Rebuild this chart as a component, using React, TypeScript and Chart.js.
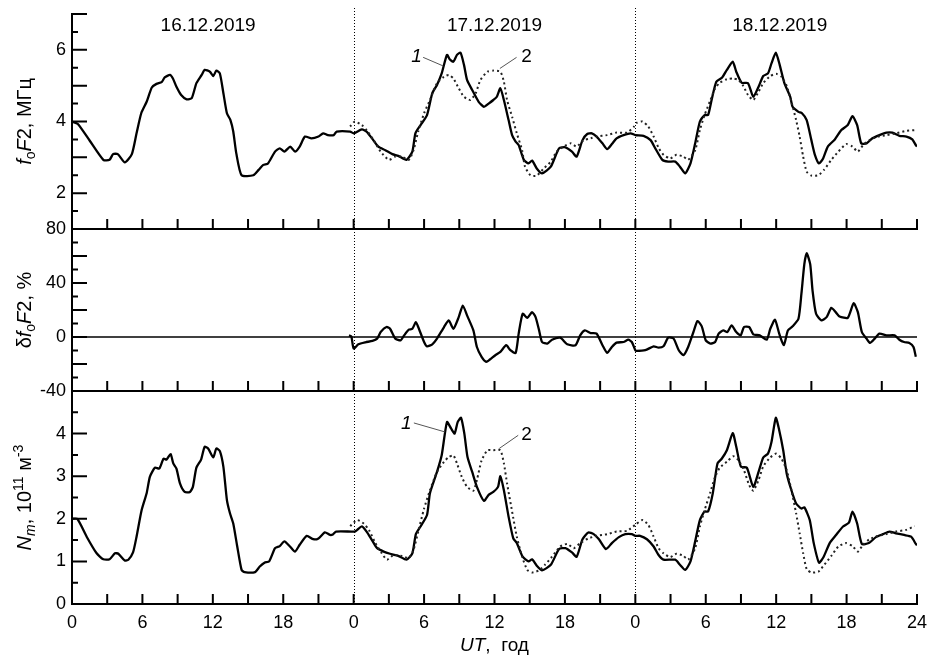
import React, { useEffect, useRef } from 'react';
import { Chart, registerables } from 'chart.js';

Chart.register(...registerables);

const FONT = '"Liberation Sans", Arial, Helvetica, sans-serif';

// ---------------- axes / labels ----------------
const X_LABEL_HOURS = [0, 6, 12, 18, 24, 30, 36, 42, 48, 54, 60, 66, 72];
const X_LABELS = ['0', '6', '12', '18', '0', '6', '12', '18', '0', '6', '12', '18', '24'];
const X_MARK_HOURS = [3, 6, 9, 12, 15, 18, 21, 24, 27, 30, 33, 36, 39, 42, 45, 48, 51, 54, 57, 60, 63, 66, 69, 72];
const DAY_BOUNDARIES = [24, 48];
const DATES = ['16.12.2019', '17.12.2019', '18.12.2019'];
const DATE_HOURS = [11.6, 36.0, 60.3];

const FOF2_LABELS = [2, 4, 6];
const FOF2_LONG = [1, 2, 3, 4, 5, 6, 7];
const FOF2_SHORT = [1.5, 2.5, 3.5, 4.5, 5.5, 6.5];
const DFOF2_LABELS = [-40, 0, 40, 80];
const DFOF2_LONG = [-40, -20, 0, 20, 40, 60, 80];
const DFOF2_SHORT = [-30, -10, 10, 30, 50, 70];
const NM_LABELS = [0, 1, 2, 3, 4];
const NM_LONG = [0, 1, 2, 3, 4, 5];
const NM_SHORT = [0.5, 1.5, 2.5, 3.5, 4.5];

// ---------------- data: [hour, value] ----------------
const FOF2_OBS: [number, number][] = [
  [0, 4.0], [0.5, 3.93], [1.5, 3.47], [2.67, 2.93], [3.2, 2.93], [3.5, 3.09], [3.9, 3.09], [4.5, 2.86], [5.1, 3.09], [5.5, 3.67],
  [5.9, 4.23], [6.36, 4.55], [6.8, 4.95], [7.2, 5.05], [7.64, 5.1], [7.9, 5.23], [8.35, 5.3], [8.6, 5.2], [8.9, 4.97], [9.3, 4.74],
  [9.77, 4.62], [10.2, 4.65], [10.6, 5.07], [11.05, 5.3], [11.3, 5.44], [11.75, 5.39], [12.04, 5.27], [12.3, 5.42], [12.6, 5.34], [12.9, 4.79],
  [13.2, 4.23], [13.5, 4.04], [13.74, 3.72], [14.0, 3.11], [14.45, 2.5], [15.45, 2.5], [15.9, 2.65], [16.3, 2.79], [16.7, 2.83], [17.3, 3.16],
  [17.7, 3.25], [18.1, 3.16], [18.6, 3.3], [19.0, 3.16], [19.4, 3.3], [19.85, 3.58], [20.4, 3.53], [21.0, 3.58], [21.4, 3.67], [21.8, 3.62],
  [22.3, 3.62], [22.55, 3.72], [23.7, 3.72], [24.0, 3.67],
  [24.7, 3.78], [25.1, 3.72], [25.56, 3.53], [26.1, 3.3], [26.7, 3.2], [27.3, 3.09], [27.8, 3.04], [28.5, 2.93], [29.0, 3.16], [29.26, 3.67],
  [29.7, 3.9], [30.25, 4.18], [30.7, 4.79], [31.1, 5.02], [31.5, 5.34], [31.95, 5.86], [32.2, 5.73], [32.5, 5.67], [32.8, 5.86], [33.1, 5.92],
  [33.4, 5.58], [33.66, 5.16], [34.1, 4.88], [34.65, 4.55], [35.1, 4.41], [35.5, 4.5], [35.9, 4.6], [36.2, 4.69], [36.5, 4.93], [36.8, 4.6],
  [37.2, 4.04], [37.5, 3.62], [37.8, 3.44], [38.06, 3.34], [38.5, 2.93], [38.9, 2.83], [39.2, 2.91], [39.6, 2.69], [40.05, 2.55], [40.8, 2.74],
  [41.5, 3.25], [42.04, 3.28], [42.6, 3.16], [43.0, 3.02], [43.5, 3.48], [43.9, 3.65], [44.3, 3.67], [44.7, 3.58], [45.2, 3.39], [45.6, 3.23],
  [46.0, 3.37], [46.4, 3.53], [47.0, 3.62], [47.6, 3.67], [48.0, 3.62],
  [48.7, 3.6], [49.3, 3.48], [49.7, 3.25], [50.3, 2.93], [50.8, 2.88], [51.4, 2.88], [51.8, 2.74], [52.25, 2.55], [52.7, 2.83], [53.1, 3.39],
  [53.5, 4.0], [53.9, 4.18], [54.2, 4.18], [54.5, 4.6], [54.9, 5.11], [55.4, 5.23], [55.8, 5.44], [56.3, 5.67], [56.6, 5.39], [57.06, 5.08],
  [57.6, 5.07], [58.05, 4.69], [58.5, 4.97], [58.9, 5.27], [59.3, 5.34], [59.6, 5.62], [59.97, 5.92], [60.3, 5.58], [60.7, 5.07], [61.2, 4.69],
  [61.4, 4.41], [61.9, 4.27], [62.2, 4.23], [62.6, 4.04], [63.0, 3.48], [63.3, 3.07], [63.65, 2.83], [64.0, 2.97], [64.4, 3.3], [65.0, 3.5],
  [65.55, 3.76], [66.1, 3.9], [66.5, 4.15], [66.9, 3.9], [67.25, 3.39], [67.7, 3.39], [68.2, 3.53], [68.8, 3.62], [69.4, 3.69], [69.9, 3.69],
  [70.5, 3.6], [71.1, 3.58], [71.6, 3.5], [71.9, 3.34], [72, 3.3],
];

const FOF2_MED: [number, number][] = [
  [23.7, 3.86], [24.1, 4.0], [24.7, 3.9], [25.1, 3.76], [25.7, 3.48], [26.3, 3.16], [27.0, 2.93], [27.55, 3.02], [28.1, 3.02], [28.7, 2.93],
  [29.1, 3.2], [29.5, 3.72], [30.0, 4.23], [30.5, 4.6], [31.1, 5.07], [31.7, 5.25], [32.1, 5.3], [32.5, 5.2], [32.95, 4.93], [33.4, 4.69],
  [33.94, 4.6], [34.4, 4.79], [34.8, 5.16], [35.4, 5.39], [35.9, 5.42], [36.5, 5.39], [36.8, 5.11], [37.07, 4.6], [37.5, 4.13], [37.9, 3.67],
  [38.35, 3.2], [38.6, 2.74], [39.06, 2.5], [39.6, 2.49], [40.2, 2.69], [40.8, 2.88], [41.3, 3.16], [41.9, 3.3], [42.5, 3.39], [43.0, 3.3],
  [43.6, 3.48], [44.2, 3.53], [44.7, 3.58], [45.6, 3.62], [46.4, 3.69], [47.3, 3.69], [47.9, 3.86], [48.14, 3.97], [48.6, 4.0], [49.1, 3.86],
  [49.56, 3.58], [50.0, 3.25], [50.4, 3.07], [50.97, 2.97], [51.5, 3.07], [52.1, 3.02], [52.5, 2.93], [53.1, 3.2], [53.5, 3.76], [53.9, 4.18],
  [54.4, 4.6], [54.8, 4.93], [55.2, 5.08], [55.8, 5.18], [56.35, 5.2], [56.8, 5.16], [57.2, 4.99], [57.6, 4.74], [58.05, 4.6], [58.5, 4.83],
  [58.9, 5.07], [59.5, 5.27], [60.0, 5.33], [60.45, 5.25], [60.9, 4.99], [61.3, 4.55], [61.7, 4.04], [62.0, 3.58], [62.3, 3.02], [62.6, 2.6],
  [63.0, 2.49], [63.6, 2.5], [64.1, 2.66], [64.7, 2.93], [65.3, 3.16], [65.97, 3.37], [66.5, 3.3], [66.96, 3.16], [67.4, 3.34], [67.95, 3.48],
  [68.66, 3.58], [69.4, 3.62], [70.2, 3.67], [71.07, 3.74], [71.8, 3.76],
];

const DFOF2: [number, number][] = [
  [23.6, 1.2], [23.8, 0.5], [24.0, -8.6], [24.4, -5.4], [25.0, -3.9], [25.6, -2.9], [26.0, -1.2], [26.3, 3.7], [26.8, 7.4], [27.1, 6.1],
  [27.55, -1.2], [28.0, -2.5], [28.3, 1.2], [28.7, 5.4], [29.0, 6.1], [29.3, 11.0], [29.5, 7.4], [30.0, -3.7], [30.25, -6.9], [30.7, -5.4],
  [31.1, -1.2], [31.7, 7.4], [32.1, 12.3], [32.5, 6.1], [32.95, 14.7], [33.3, 23.3], [33.66, 16.0], [34.2, 4.9], [34.5, -7.4], [34.9, -14.7],
  [35.3, -18.4], [35.6, -16.7], [36.07, -13.5], [36.5, -11.0], [37.0, -6.1], [37.35, -9.8], [37.8, -11.8], [38.06, 2.5], [38.4, 17.2], [38.8, 14.2],
  [39.2, 18.4], [39.5, 14.7], [39.8, 4.9], [40.05, -3.7], [40.5, -4.9], [40.9, -2.0], [41.6, -0.5], [42.2, -5.4], [42.9, -6.1], [43.3, 1.2],
  [43.7, 4.9], [44.2, 2.9], [44.7, 2.5], [45.2, -6.1], [45.6, -11.8], [46.0, -7.4], [46.4, -4.2], [47.0, -3.7], [47.4, -2.0], [47.7, -3.7],
  [48.0, -9.8], [48.1, -10.3], [48.85, -9.8], [49.56, -6.9], [49.98, -7.9], [50.4, -6.9], [50.8, -0.5], [51.26, -1.2], [51.7, -9.8], [52.1, -13.5],
  [52.5, -7.4], [52.95, 3.7], [53.3, 11.8], [53.66, 7.9], [54.0, -2.5], [54.4, -4.9], [54.8, -3.7], [55.1, 2.5], [55.5, 4.9], [55.84, 3.7],
  [56.2, 8.6], [56.6, 3.7], [56.97, 1.2], [57.26, 7.4], [57.7, 7.4], [58.05, 2.0], [58.6, 1.2], [59.2, -2.0], [59.5, 6.1], [59.9, 12.8],
  [60.26, 2.5], [60.65, -6.1], [61.0, 4.9], [61.4, 7.9], [61.9, 13.5], [62.15, 31.9], [62.4, 54.0], [62.6, 62.1], [62.9, 54.0], [63.1, 34.4],
  [63.4, 17.2], [63.85, 12.3], [64.3, 14.7], [64.7, 21.6], [65.07, 18.4], [65.4, 15.2], [66.1, 14.2], [66.6, 25.0], [66.96, 18.4], [67.3, 3.7],
  [67.7, -1.2], [68.0, -4.4], [68.4, -1.2], [68.8, 2.5], [69.4, 1.2], [70.1, 1.2], [70.5, -2.0], [70.9, -3.7], [71.35, -4.4], [71.7, -7.4],
  [71.9, -14.7],
];
const DFOF2_ZERO: [number, number][] = [[0, 0], [72, 0]];

const NM_OBS: [number, number][] = [
  [0, 2.0], [0.45, 2.0], [1.25, 1.58], [2.1, 1.19], [2.67, 1.05], [3.2, 1.05], [3.66, 1.19], [3.95, 1.18], [4.5, 1.02], [4.8, 1.04],
  [5.2, 1.21], [5.5, 1.58], [5.93, 2.2], [6.36, 2.6], [6.64, 2.99], [7.07, 3.2], [7.44, 3.18], [7.8, 3.41], [8.06, 3.39], [8.4, 3.52],
  [8.63, 3.3], [8.9, 3.18], [9.2, 2.83], [9.6, 2.63], [10.05, 2.63], [10.3, 2.75], [10.6, 3.2], [11.0, 3.39], [11.3, 3.69], [11.6, 3.65],
  [12.04, 3.44], [12.3, 3.65], [12.6, 3.59], [12.9, 3.22], [13.2, 2.44], [13.46, 2.13], [13.74, 1.89], [14.08, 1.35], [14.45, 0.8], [14.7, 0.75],
  [15.6, 0.75], [16.0, 0.88], [16.4, 0.97], [16.8, 1.0], [17.3, 1.31], [17.7, 1.36], [18.1, 1.47], [18.57, 1.35], [19.0, 1.23], [19.4, 1.39],
  [20.0, 1.6], [20.56, 1.52], [21.0, 1.54], [21.55, 1.68], [22.0, 1.62], [22.26, 1.64], [22.5, 1.7], [23.8, 1.7], [24.1, 1.7],
  [24.3, 1.74], [24.7, 1.82], [25.1, 1.7], [25.56, 1.5], [26.0, 1.31], [26.56, 1.23], [27.1, 1.18], [27.8, 1.13], [28.5, 1.04], [29.0, 1.19],
  [29.3, 1.64], [29.7, 1.82], [30.25, 2.09], [30.5, 2.6], [31.1, 3.1], [31.5, 3.49], [31.95, 4.27], [32.3, 4.12], [32.6, 4.0], [32.86, 4.27],
  [33.15, 4.37], [33.43, 4.0], [33.7, 3.45], [34.1, 3.1], [34.5, 2.75], [35.1, 2.42], [35.5, 2.56], [35.9, 2.63], [36.3, 2.75], [36.5, 3.0],
  [36.8, 2.67], [37.2, 2.05], [37.6, 1.54], [37.9, 1.43], [38.4, 1.11], [38.9, 1.0], [39.2, 1.05], [39.6, 0.9], [40.05, 0.79], [40.8, 0.92],
  [41.5, 1.29], [42.04, 1.31], [42.6, 1.21], [43.0, 1.11], [43.5, 1.52], [44.0, 1.68], [44.45, 1.64], [44.9, 1.52], [45.5, 1.29], [46.0, 1.43],
  [46.6, 1.57], [47.15, 1.64], [47.7, 1.64], [48.0, 1.6],
  [48.4, 1.6], [48.99, 1.52], [49.56, 1.35], [49.98, 1.15], [50.4, 1.04], [51.4, 1.04], [51.8, 0.92], [52.25, 0.8], [52.7, 1.0], [53.1, 1.47],
  [53.5, 1.97], [53.9, 2.17], [54.2, 2.17], [54.6, 2.6], [55.0, 3.3], [55.36, 3.41], [55.8, 3.61], [56.3, 4.01], [56.6, 3.69], [57.0, 3.22],
  [57.5, 3.2], [58.05, 2.75], [58.5, 3.1], [58.9, 3.44], [59.3, 3.53], [59.6, 3.8], [59.97, 4.37], [60.26, 4.08], [60.6, 3.61], [60.9, 3.06],
  [61.3, 2.67], [61.7, 2.36], [62.15, 2.24], [62.4, 2.27], [62.86, 1.97], [63.2, 1.43], [63.65, 0.97], [64.05, 1.11], [64.56, 1.43], [65.1, 1.62],
  [65.7, 1.82], [66.2, 1.91], [66.5, 2.17], [66.9, 1.89], [67.3, 1.41], [67.9, 1.43], [68.5, 1.57], [69.1, 1.64], [69.65, 1.7], [70.2, 1.66],
  [70.9, 1.62], [71.5, 1.58], [71.9, 1.41], [72, 1.38],
];

const NM_MED: [number, number][] = [
  [23.7, 1.83], [24.3, 1.97], [24.85, 1.89], [25.3, 1.74], [25.85, 1.43], [26.4, 1.19], [26.84, 1.04], [27.4, 1.15], [28.1, 1.13], [28.7, 1.08],
  [29.1, 1.27], [29.5, 1.7], [30.0, 2.24], [30.5, 2.67], [31.1, 3.1], [31.7, 3.34], [32.1, 3.45], [32.5, 3.49], [32.8, 3.3], [33.2, 2.99],
  [33.66, 2.75], [34.2, 2.66], [34.5, 2.91], [34.9, 3.37], [35.4, 3.61], [35.9, 3.61], [36.5, 3.61], [36.8, 3.3], [37.07, 2.83], [37.5, 2.17],
  [37.9, 1.58], [38.35, 1.11], [38.8, 0.8], [39.2, 0.74], [39.8, 0.79], [40.3, 0.92], [40.9, 1.11], [41.6, 1.35], [42.2, 1.41], [42.75, 1.31],
  [43.3, 1.43], [44.0, 1.54], [44.7, 1.6], [45.6, 1.64], [46.4, 1.7], [47.3, 1.72], [48.0, 1.86], [48.6, 1.97], [49.1, 1.86], [49.56, 1.58],
  [49.98, 1.31], [50.4, 1.19], [50.97, 1.1], [51.5, 1.18], [52.1, 1.13], [52.5, 1.04], [53.1, 1.31], [53.5, 1.82], [53.9, 2.2], [54.4, 2.63],
  [54.8, 2.99], [55.2, 3.2], [55.8, 3.34], [56.35, 3.47], [56.8, 3.37], [57.26, 3.14], [57.7, 2.79], [58.05, 2.66], [58.5, 2.91], [58.9, 3.23],
  [59.5, 3.44], [60.0, 3.53], [60.45, 3.41], [60.9, 3.14], [61.3, 2.67], [61.7, 2.13], [62.0, 1.66], [62.3, 1.19], [62.6, 0.82], [63.0, 0.74],
  [63.6, 0.76], [64.1, 0.92], [64.7, 1.13], [65.3, 1.35], [65.97, 1.43], [66.5, 1.36], [66.96, 1.23], [67.4, 1.39], [67.95, 1.52], [68.66, 1.6],
  [69.4, 1.64], [70.2, 1.7], [71.07, 1.74], [71.8, 1.83],
];

// curve labels "1"/"2": [label, hour, value] and leader lines [h1, v1, h2, v2]
const FOF2_CURVE_LABELS: [string, number, number][] = [['1', 29.36, 5.67], ['2', 38.73, 5.67]];
const FOF2_LEADERS: [number, number, number, number][] = [[29.92, 5.79, 31.63, 5.55], [37.88, 5.79, 36.46, 5.48]];
const NM_CURVE_LABELS: [string, number, number][] = [['1', 28.48, 4.10], ['2', 38.73, 3.84]];
const NM_LEADERS: [number, number, number, number][] = [[29.13, 4.25, 31.77, 4.04], [38.02, 3.96, 36.4, 3.65]];

type Seg = { t: string; italic?: boolean; scale?: number; shift?: number };

const TITLE_FOF2: Seg[] = [{ t: 'f', italic: true }, { t: 'o', scale: 0.7, shift: 0.22 }, { t: 'F', italic: true }, { t: '2, МГц' }];
const TITLE_DFOF2: Seg[] = [{ t: 'δ' }, { t: 'f', italic: true }, { t: 'o', scale: 0.7, shift: 0.22 }, { t: 'F', italic: true }, { t: '2, %' }];
const TITLE_NM: Seg[] = [
  { t: 'N', italic: true }, { t: 'm', italic: true, scale: 0.7, shift: 0.22 }, { t: ', 10' },
  { t: '11', scale: 0.7, shift: -0.42 }, { t: ' м' }, { t: '-3', scale: 0.7, shift: -0.42 },
];
const TITLE_UT: Seg[] = [{ t: 'UT', italic: true }, { t: ',  год' }];

function drawRich(ctx: CanvasRenderingContext2D, segs: Seg[], size: number, x: number, y: number, rotate: boolean) {
  ctx.save();
  ctx.translate(x, y);
  if (rotate) ctx.rotate(-Math.PI / 2);
  const fontOf = (s: Seg) => `${s.italic ? 'italic ' : ''}${Math.round(size * (s.scale || 1))}px ${FONT}`;
  let total = 0;
  for (const s of segs) {
    ctx.font = fontOf(s);
    total += ctx.measureText(s.t).width;
  }
  let cx = -total / 2;
  ctx.textAlign = 'left';
  ctx.textBaseline = 'alphabetic';
  ctx.fillStyle = '#000';
  for (const s of segs) {
    ctx.font = fontOf(s);
    ctx.fillText(s.t, cx, (s.shift || 0) * size);
    cx += ctx.measureText(s.t).width;
  }
  ctx.restore();
}

type Series = { points: [number, number][]; width: number; color: string; dash?: number[] };
type Panel = {
  padTop: number;
  padBottom: number;
  xHeight: number;
  yMin: number;
  yMax: number;
  yLabels: number[];
  yLong: number[];
  yShort: number[];
  series: Series[];
  title: Seg[];
  showX: boolean;
  dottedTopExtra: number;
  dates?: boolean;
  curveLabels?: [string, number, number][];
  leaders?: [number, number, number, number][];
  xTitle?: boolean;
};

const SOLID = { width: 2.3, color: '#000' };
const DOTTED = { width: 2, color: '#222', dash: [2, 3] };

const PANELS: Panel[] = [
  {
    padTop: 14, padBottom: 428, xHeight: 0, yMin: 1, yMax: 7, yLabels: FOF2_LABELS, yLong: FOF2_LONG, yShort: FOF2_SHORT,
    series: [{ points: FOF2_MED, ...DOTTED }, { points: FOF2_OBS, ...SOLID }],
    title: TITLE_FOF2, showX: false, dottedTopExtra: 6, dates: true,
    curveLabels: FOF2_CURVE_LABELS, leaders: FOF2_LEADERS,
  },
  {
    padTop: 229, padBottom: 266, xHeight: 0, yMin: -40, yMax: 80, yLabels: DFOF2_LABELS, yLong: DFOF2_LONG, yShort: DFOF2_SHORT,
    series: [{ points: DFOF2_ZERO, width: 1.5, color: '#000' }, { points: DFOF2, ...SOLID }],
    title: TITLE_DFOF2, showX: false, dottedTopExtra: 0,
  },
  {
    padTop: 391, padBottom: 0, xHeight: 53, yMin: 0, yMax: 5, yLabels: NM_LABELS, yLong: NM_LONG, yShort: NM_SHORT,
    series: [{ points: NM_MED, ...DOTTED }, { points: NM_OBS, ...SOLID }],
    title: TITLE_NM, showX: true, dottedTopExtra: 0,
    curveLabels: NM_CURVE_LABELS, leaders: NM_LEADERS, xTitle: true,
  },
];

function framePlugin(p: Panel) {
  return {
    id: 'frame',
    beforeDatasetsDraw(chart: any) {
      const { ctx, chartArea: a, scales } = chart;
      const x = scales.x;
      ctx.save();
      ctx.strokeStyle = '#000';
      ctx.lineWidth = 1;
      ctx.setLineDash([1, 2]);
      for (const h of DAY_BOUNDARIES) {
        const px = Math.round(x.getPixelForValue(h)) + 0.5;
        ctx.beginPath();
        ctx.moveTo(px, a.top - p.dottedTopExtra);
        ctx.lineTo(px, a.bottom);
        ctx.stroke();
      }
      ctx.restore();
    },
    afterDraw(chart: any) {
      const { ctx, chartArea: a, scales } = chart;
      const x = scales.x;
      const y = scales.y;
      ctx.save();
      ctx.strokeStyle = '#000';
      ctx.lineWidth = 2;
      ctx.beginPath();
      for (const h of X_MARK_HOURS) {
        const px = x.getPixelForValue(h);
        ctx.moveTo(px, a.bottom);
        ctx.lineTo(px, a.bottom - 10);
      }
      for (const v of p.yLong) {
        const py = y.getPixelForValue(v);
        ctx.moveTo(a.left, py);
        ctx.lineTo(a.left + 15, py);
      }
      for (const v of p.yShort) {
        const py = y.getPixelForValue(v);
        ctx.moveTo(a.left, py);
        ctx.lineTo(a.left + 6, py);
      }
      ctx.stroke();

      if (p.leaders) {
        ctx.strokeStyle = '#555';
        ctx.lineWidth = 1;
        ctx.beginPath();
        for (const [h1, v1, h2, v2] of p.leaders) {
          ctx.moveTo(x.getPixelForValue(h1), y.getPixelForValue(v1));
          ctx.lineTo(x.getPixelForValue(h2), y.getPixelForValue(v2));
        }
        ctx.stroke();
      }
      ctx.restore();

      if (p.curveLabels) {
        for (const [t, h, v] of p.curveLabels) {
          drawRich(ctx, [{ t, italic: t === '1' }], 19, x.getPixelForValue(h), y.getPixelForValue(v), false);
        }
      }
      if (p.dates) {
        DATES.forEach((d, i) => {
          drawRich(ctx, [{ t: d }], 19, x.getPixelForValue(DATE_HOURS[i]), a.top + 16.7, false);
        });
      }
      drawRich(ctx, p.title, 20, a.left - 41, (a.top + a.bottom) / 2, true);
      if (p.xTitle) {
        drawRich(ctx, TITLE_UT, 19, (a.left + a.right) / 2, a.bottom + 46.5, false);
      }
    },
  };
}

function buildConfig(p: Panel): any {
  return {
    type: 'line',
    data: {
      datasets: p.series.map((s) => ({
        data: s.points.map(([hx, vy]) => ({ x: hx, y: vy })),
        borderColor: s.color,
        borderWidth: s.width,
        borderDash: s.dash || [],
        pointRadius: 0,
        tension: 0.2,
        fill: false,
      })),
    },
    options: {
      responsive: false,
      animation: false,
      devicePixelRatio: 1,
      events: [],
      layout: { padding: { left: 0, right: 12, top: p.padTop, bottom: p.padBottom } },
      plugins: { legend: { display: false }, tooltip: { enabled: false }, title: { display: false } },
      scales: {
        x: {
          type: 'linear',
          min: 0,
          max: 72,
          grid: { display: false, drawTicks: false },
          border: { display: true, color: '#000', width: 2 },
          ticks: {
            display: p.showX,
            padding: 8,
            color: '#000',
            font: { size: 18, family: FONT },
            autoSkip: false,
            maxRotation: 0,
            callback: (v: number) => {
              const i = X_LABEL_HOURS.indexOf(v);
              return i >= 0 ? X_LABELS[i] : '';
            },
          },
          afterBuildTicks: (s: any) => {
            s.ticks = X_LABEL_HOURS.map((v) => ({ value: v }));
          },
          afterFit: (s: any) => {
            s.height = p.xHeight;
            s.paddingLeft = 0;
            s.paddingRight = 0;
          },
        },
        y: {
          type: 'linear',
          min: p.yMin,
          max: p.yMax,
          grid: { display: false, drawTicks: false },
          border: { display: true, color: '#000', width: 2 },
          ticks: {
            padding: 6,
            color: '#000',
            font: { size: 18, family: FONT },
            callback: (v: number) => String(v),
          },
          afterBuildTicks: (s: any) => {
            s.ticks = p.yLabels.map((v) => ({ value: v }));
          },
          afterFit: (s: any) => {
            s.width = 72;
            s.paddingTop = 0;
            s.paddingBottom = 0;
          },
        },
      },
    },
    plugins: [framePlugin(p)],
  };
}

export default function App() {
  const r1 = useRef<HTMLCanvasElement>(null);
  const r2 = useRef<HTMLCanvasElement>(null);
  const r3 = useRef<HTMLCanvasElement>(null);
  useEffect(() => {
    const refs = [r1, r2, r3];
    const charts = PANELS.map((p, i) => new Chart(refs[i].current as HTMLCanvasElement, buildConfig(p)));
    return () => charts.forEach((c) => c.destroy());
  }, []);
  const cs: React.CSSProperties = { position: 'absolute', left: 0, top: 0, width: 929, height: 657 };
  return (
    <div style={{ position: 'absolute', left: 0, top: 0, width: 929, height: 657, background: '#fff' }}>
      <canvas ref={r1} width={929} height={657} style={cs} />
      <canvas ref={r2} width={929} height={657} style={cs} />
      <canvas ref={r3} width={929} height={657} style={cs} />
    </div>
  );
}
